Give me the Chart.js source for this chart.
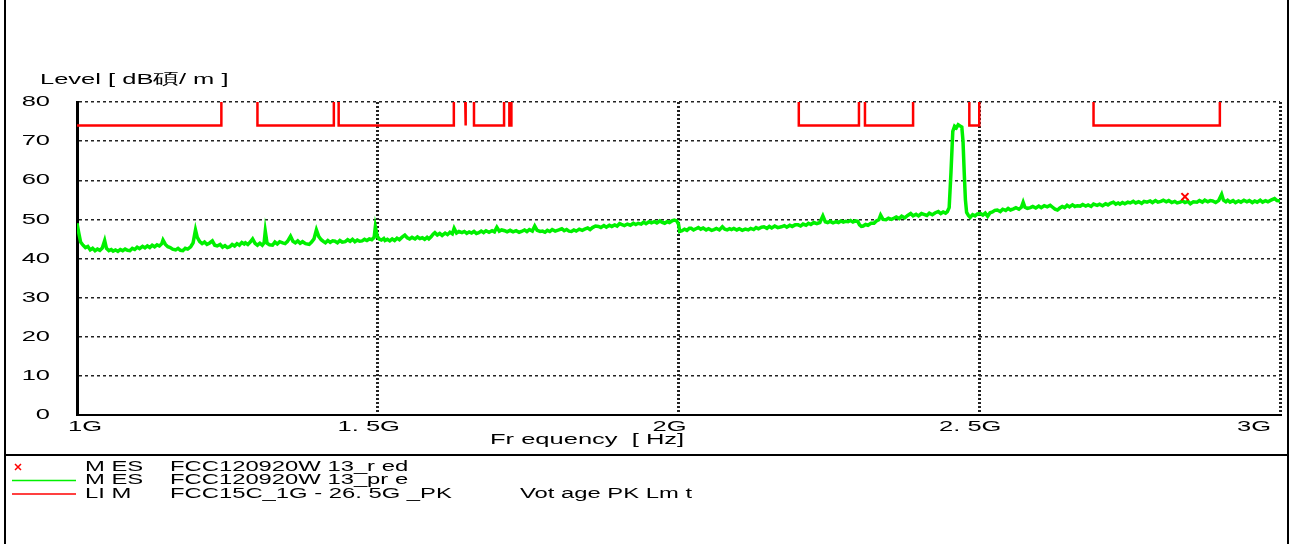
<!DOCTYPE html>
<html>
<head>
<meta charset="utf-8">
<script src="https://cdn.jsdelivr.net/npm/chart.js@4.4.1/dist/chart.umd.min.js"></script>
<style>
  html, body { margin: 0; padding: 0; background: #fff; }
  canvas { display: block; }
</style>
</head>
<body>
<canvas id="emiChart" width="1293" height="544"></canvas>
<script>
// frequency in MHz, level in dBuV/m
const traceFreq = [
  1000,1003,1006,1010,1014,1018,1022,1026,1030,1034,1038,1042,1046,1049,1053,1057,1060,1064,1068,1072,
  1076,1080,1084,1088,1092,1096,1100,1104,1109,1113,1117,1121,1125,1129,1133,1137,1141,1143,1147,1151,
  1155,1159,1164,1168,1172,1176,1180,1184,1189,1193,1197,1200,1204,1208,1212,1216,1220,1225,1229,1233,
  1238,1242,1246,1250,1254,1258,1262,1266,1270,1274,1278,1280,1284,1288,1292,1296,1300,1304,1308,1311,
  1313,1316,1320,1325,1329,1333,1337,1342,1346,1350,1355,1359,1363,1367,1371,1375,1380,1386,1390,1394,
  1398,1402,1406,1410,1413,1417,1421,1425,1429,1433,1437,1441,1446,1450,1454,1458,1462,1466,1470,1474,
  1478,1482,1486,1490,1494,1496,1499,1502,1506,1510,1512,1516,1520,1524,1528,1532,1536,1540,1545,1549,
  1553,1557,1562,1566,1570,1574,1578,1582,1585,1589,1592,1595,1599,1603,1607,1612,1616,1620,1624,1627,
  1631,1635,1640,1644,1648,1652,1656,1660,1664,1668,1672,1676,1680,1685,1690,1694,1698,1702,1706,1711,
  1715,1720,1725,1730,1735,1739,1744,1748,1752,1757,1761,1765,1770,1774,1778,1782,1786,1790,1795,1801,
  1806,1810,1814,1818,1822,1826,1830,1835,1840,1844,1849,1853,1857,1862,1867,1871,1876,1880,1885,1889,
  1894,1898,1902,1905,1910,1915,1920,1925,1929,1933,1938,1942,1946,1951,1955,1960,1964,1969,1973,1977,
  1981,1985,1989,1993,1997,2000,2002,2006,2010,2014,2018,2021,2025,2029,2033,2037,2041,2046,2050,2055,
  2059,2063,2068,2073,2077,2081,2085,2088,2092,2097,2101,2106,2111,2116,2120,2125,2129,2133,2138,2142,
  2147,2151,2155,2160,2165,2171,2176,2180,2185,2189,2194,2199,2203,2207,2212,2216,2220,2225,2230,2235,
  2240,2244,2248,2252,2257,2262,2266,2270,2274,2278,2282,2286,2290,2294,2298,2301,2304,2307,2311,2315,
  2320,2325,2329,2333,2336,2340,2345,2349,2354,2358,2362,2367,2371,2376,2381,2386,2390,2395,2399,2404,
  2408,2413,2417,2422,2427,2432,2436,2440,2444,2447,2450,2453,2456,2459,2462,2465,2468,2471,2473,2475,
  2477,2479,2482,2485,2489,2493,2497,2502,2506,2510,2514,2518,2522,2526,2530,2535,2539,2544,2548,2552,
  2557,2561,2566,2570,2573,2576,2580,2585,2589,2594,2599,2603,2608,2613,2618,2622,2626,2630,2634,2638,
  2642,2646,2650,2655,2659,2663,2668,2672,2677,2681,2686,2690,2696,2700,2705,2710,2714,2718,2723,2727,
  2731,2734,2738,2742,2747,2751,2756,2760,2765,2770,2774,2779,2784,2788,2793,2797,2802,2806,2811,2815,
  2820,2825,2829,2834,2838,2842,2847,2851,2856,2862,2866,2871,2875,2880,2884,2888,2893,2898,2903,2906,
  2910,2913,2917,2922,2926,2931,2935,2940,2945,2949,2954,2958,2962,2967,2971,2976,2980,2985,2991,2995,
  3000
];
const traceLevel = [
  49.0,46.5,44.2,43.4,42.8,43.1,42.2,42.6,42.0,42.4,42.1,42.7,44.6,42.6,42.0,42.3,41.9,42.2,41.8,42.3,
  42.0,42.4,42.1,42.0,42.6,42.3,42.9,42.5,43.1,42.7,43.2,42.8,43.4,43.0,43.5,43.2,43.8,44.7,43.6,43.0,
  42.8,42.4,42.2,42.6,42.1,42.0,42.6,42.4,43.0,44.0,47.3,45.4,44.3,43.8,44.2,43.6,43.9,44.5,43.4,43.2,
  43.6,42.9,43.3,42.8,43.0,43.6,43.2,43.8,43.4,44.1,43.7,44.0,43.6,44.2,45.0,43.9,43.4,43.9,43.4,44.0,
  47.0,43.9,43.5,43.4,44.2,43.7,44.3,44.0,43.8,44.4,45.7,44.4,44.0,44.5,43.9,44.3,43.8,43.6,44.2,45.0,
  47.3,45.6,44.8,44.3,44.0,44.6,44.1,44.5,44.4,44.0,44.6,44.2,44.3,44.8,44.4,44.9,44.3,44.7,44.4,44.5,
  44.9,44.6,45.0,44.8,45.4,48.1,45.8,45.0,44.7,45.1,44.6,44.9,44.5,45.0,44.6,45.2,44.8,45.4,46.0,45.3,
  45.0,45.4,45.0,45.5,45.1,45.3,44.9,45.4,45.0,45.6,46.2,46.6,46.0,46.4,45.9,46.5,46.1,46.7,46.3,47.7,
  46.5,46.9,46.6,46.9,46.4,46.8,46.5,46.9,46.4,46.6,47.0,46.6,47.1,46.7,47.1,46.8,48.0,47.0,47.3,47.1,
  46.8,47.2,46.8,47.1,46.7,46.9,47.3,46.9,47.4,47.0,48.3,47.2,46.9,47.0,46.7,47.2,46.9,47.4,47.0,47.3,
  47.6,47.1,47.4,47.0,46.9,47.3,47.0,47.5,47.2,47.5,47.8,47.4,47.9,48.3,48.2,47.9,48.4,48.0,48.5,48.2,
  48.6,48.3,48.9,48.7,48.4,48.8,48.5,49.0,48.7,49.0,48.8,49.3,48.9,49.4,49.1,49.4,49.1,49.6,49.2,49.0,
  49.4,49.2,49.6,49.8,49.6,48.8,46.9,47.1,47.5,47.2,47.7,47.7,47.3,47.6,47.9,47.5,47.8,47.3,47.6,47.2,
  47.4,47.7,47.3,48.1,47.5,47.3,47.6,47.4,47.7,47.3,47.6,47.2,47.5,47.3,47.7,47.4,47.9,47.6,48.0,48.1,
  47.7,48.2,47.8,48.3,47.9,48.1,48.4,48.0,48.5,48.2,48.6,48.6,48.3,48.8,48.5,49.0,48.7,49.2,48.9,49.2,
  50.9,49.4,49.2,49.5,49.1,49.4,49.2,49.6,49.3,49.5,49.4,49.7,49.3,49.6,49.5,48.6,48.2,48.3,48.7,48.5,
  49.0,49.0,49.6,49.9,51.1,50.0,49.9,50.3,50.0,50.3,50.6,50.2,50.8,50.4,51.0,51.5,50.9,51.3,50.9,51.5,
  51.3,51.0,51.6,51.2,51.7,52.0,51.5,51.9,51.6,52.0,53.0,62.0,72.5,73.8,73.4,74.2,73.9,73.6,70.0,62.0,
  55.0,51.8,51.0,50.5,51.2,50.9,51.4,51.5,51.1,51.6,50.8,51.7,51.9,52.3,52.4,52.0,52.6,52.3,52.8,52.4,
  52.7,53.0,52.6,53.1,54.4,53.1,52.8,53.0,53.3,52.9,53.4,53.0,53.5,53.2,53.6,53.1,52.6,52.4,52.9,53.3,
  53.0,53.6,53.2,53.7,53.3,53.5,53.4,53.8,53.4,53.7,53.3,53.9,53.6,53.9,53.5,54.0,53.7,54.1,54.4,53.9,
  54.2,53.9,54.3,54.0,54.4,54.2,54.6,54.2,54.5,54.1,54.6,54.4,54.7,54.3,54.8,54.4,54.6,54.9,54.5,54.8,
  54.3,54.6,54.2,54.4,54.7,54.3,54.6,54.0,54.5,54.4,54.8,54.4,54.9,54.5,54.8,54.7,54.3,54.8,56.4,54.9,
  54.5,54.9,54.4,54.8,54.3,54.7,54.4,54.9,54.5,54.8,54.3,54.7,54.4,54.9,54.4,54.8,54.5,54.9,55.3,54.8,
  54.7
];

// FCC restricted bands (MHz) where the 74 dBuV/m peak limit is shown
const bandStart = [1000, 1300, 1435, 1645.5, 1660, 1718.8, 2200, 2310, 2483.5, 2690];
const bandEnd   = [1240, 1427, 1626.5, 1646.5, 1710, 1722.2, 2300, 2390, 2500, 2900];
const limitLevel = 74;
const limitTop = 80;

// final measurement
const markFreq = [2842];
const markLevel = [55.8];

const xTickValues = [1000, 1500, 2000, 2500, 3000];
const xTickLabels = ["1G", "1. 5G", "2G", "2. 5G", "3G"];

const legendSymbols = ["cross", "line", "line"];
const legendColors = ["#ff0000", "#00f000", "#ff0000"];
const legendCodes = ["M ES", "M ES", "LI M"];
const legendNames = ["FCC120920W 13_r ed", "FCC120920W 13_pr e", "FCC15C_1G - 26. 5G _PK"];
const legendNotes = ["", "", "Vot age PK Lm t"];

const traceData = traceFreq.map((f, i) => ({ x: f, y: traceLevel[i] }));

const limitData = [];
bandStart.forEach((s, i) => {
  if (s > 1000) limitData.push({ x: s, y: limitTop });
  limitData.push({ x: s, y: limitLevel });
  limitData.push({ x: bandEnd[i], y: limitLevel });
  limitData.push({ x: bandEnd[i], y: limitTop });
  limitData.push({ x: bandEnd[i], y: null });
});

const markData = markFreq.map((f, i) => ({ x: f, y: markLevel[i] }));

const FONT = "'Liberation Sans', Arial, sans-serif";
const STRETCH = 1.7; // the plotter's text is drawn wide
Chart.defaults.font.family = FONT;
Chart.defaults.color = "#000";

// make every fillText on this canvas horizontally stretched around its anchor
const wideText = {
  id: "wideText",
  beforeInit(chart) {
    const ctx = chart.ctx;
    const fill = ctx.fillText;
    ctx.fillText = function (t, x, y, w) {
      this.save();
      this.translate(x, y);
      this.scale(STRETCH, 1);
      fill.call(this, t, 0, 0);
      this.restore();
    };
  }
};

const extras = {
  id: "extras",
  afterDraw(chart) {
    const ctx = chart.ctx;
    ctx.save();
    ctx.fillStyle = "#000";
    ctx.textBaseline = "middle";
    ctx.textAlign = "left";
    ctx.font = "15px " + FONT;
    ctx.fillText("Level [ dB碩/ m ]", 40, 80);
    ctx.fillText("Fr equency  [ Hz]", 490, 440);

    // frame
    ctx.strokeStyle = "#000";
    ctx.lineWidth = 2;
    ctx.beginPath();
    ctx.moveTo(5, 0); ctx.lineTo(5, 544);
    ctx.moveTo(1288, 0); ctx.lineTo(1288, 544);
    ctx.moveTo(5, 455); ctx.lineTo(1288, 455);
    ctx.stroke();

    // legend
    ctx.font = "14px " + FONT;
    legendCodes.forEach((code, i) => {
      const y = 467 + i * 13.5;
      ctx.strokeStyle = legendColors[i];
      ctx.lineWidth = 1.5;
      ctx.beginPath();
      if (legendSymbols[i] === "cross") {
        ctx.moveTo(15, y - 3); ctx.lineTo(21, y + 3);
        ctx.moveTo(21, y - 3); ctx.lineTo(15, y + 3);
      } else {
        ctx.moveTo(12, y); ctx.lineTo(76, y);
      }
      ctx.stroke();
      ctx.fillStyle = "#000";
      ctx.fillText(code, 85, y);
      ctx.fillText(legendNames[i], 170, y);
      if (legendNotes[i]) ctx.fillText(legendNotes[i], 520, y);
    });
    ctx.restore();
  }
};

new Chart(document.getElementById("emiChart"), {
  type: "line",
  data: {
    datasets: [
      {
        label: "MES FCC120920W13_red",
        type: "scatter",
        data: markData,
        pointStyle: "crossRot",
        pointRadius: 5,
        borderColor: "#ff0000",
        borderWidth: 2,
        order: 0
      },
      {
        label: "MES FCC120920W13_pre",
        data: traceData,
        borderColor: "#00f000",
        borderWidth: 3.5,
        pointRadius: 0,
        tension: 0,
        order: 1
      },
      {
        label: "LIM FCC15C_1G-26.5G_PK",
        data: limitData,
        borderColor: "#ff0000",
        borderWidth: 2.5,
        pointRadius: 0,
        tension: 0,
        spanGaps: false,
        order: 2
      }
    ]
  },
  options: {
    responsive: false,
    animation: false,
    devicePixelRatio: 1,
    layout: { padding: { top: 102, right: 13, bottom: 0, left: 0 } },
    plugins: { legend: { display: false }, tooltip: { enabled: false } },
    scales: {
      x: {
        type: "linear",
        min: 1000,
        max: 3000,
        afterFit: (s) => { s.height = 129; },
        afterBuildTicks: (s) => { s.ticks = xTickValues.map(v => ({ value: v })); },
        ticks: {
          padding: 3,
          align: "inner",
          labelOffset: -9,
          maxRotation: 0,
          font: { size: 15 },
          callback: (v) => xTickLabels[xTickValues.indexOf(v)]
        },
        grid: {
          drawTicks: false,
          lineWidth: 3,
          color: (c) => (c.tick && c.tick.value === 1000 ? "rgba(0,0,0,0)" : "#222")
        },
        border: { display: true, color: "#000", width: 2, dash: [2, 2] }
      },
      y: {
        min: 0,
        max: 80,
        afterFit: (s) => { s.width = 77; },
        ticks: { stepSize: 10, padding: 27, font: { size: 15 } },
        grid: {
          drawTicks: false,
          lineWidth: 1.5,
          color: (c) => (c.tick && c.tick.value === 0 ? "rgba(0,0,0,0)" : "#222")
        },
        border: { display: true, color: "#000", width: 3, dash: [3, 3] }
      }
    }
  },
  plugins: [wideText, extras]
});
</script>
</body>
</html>
